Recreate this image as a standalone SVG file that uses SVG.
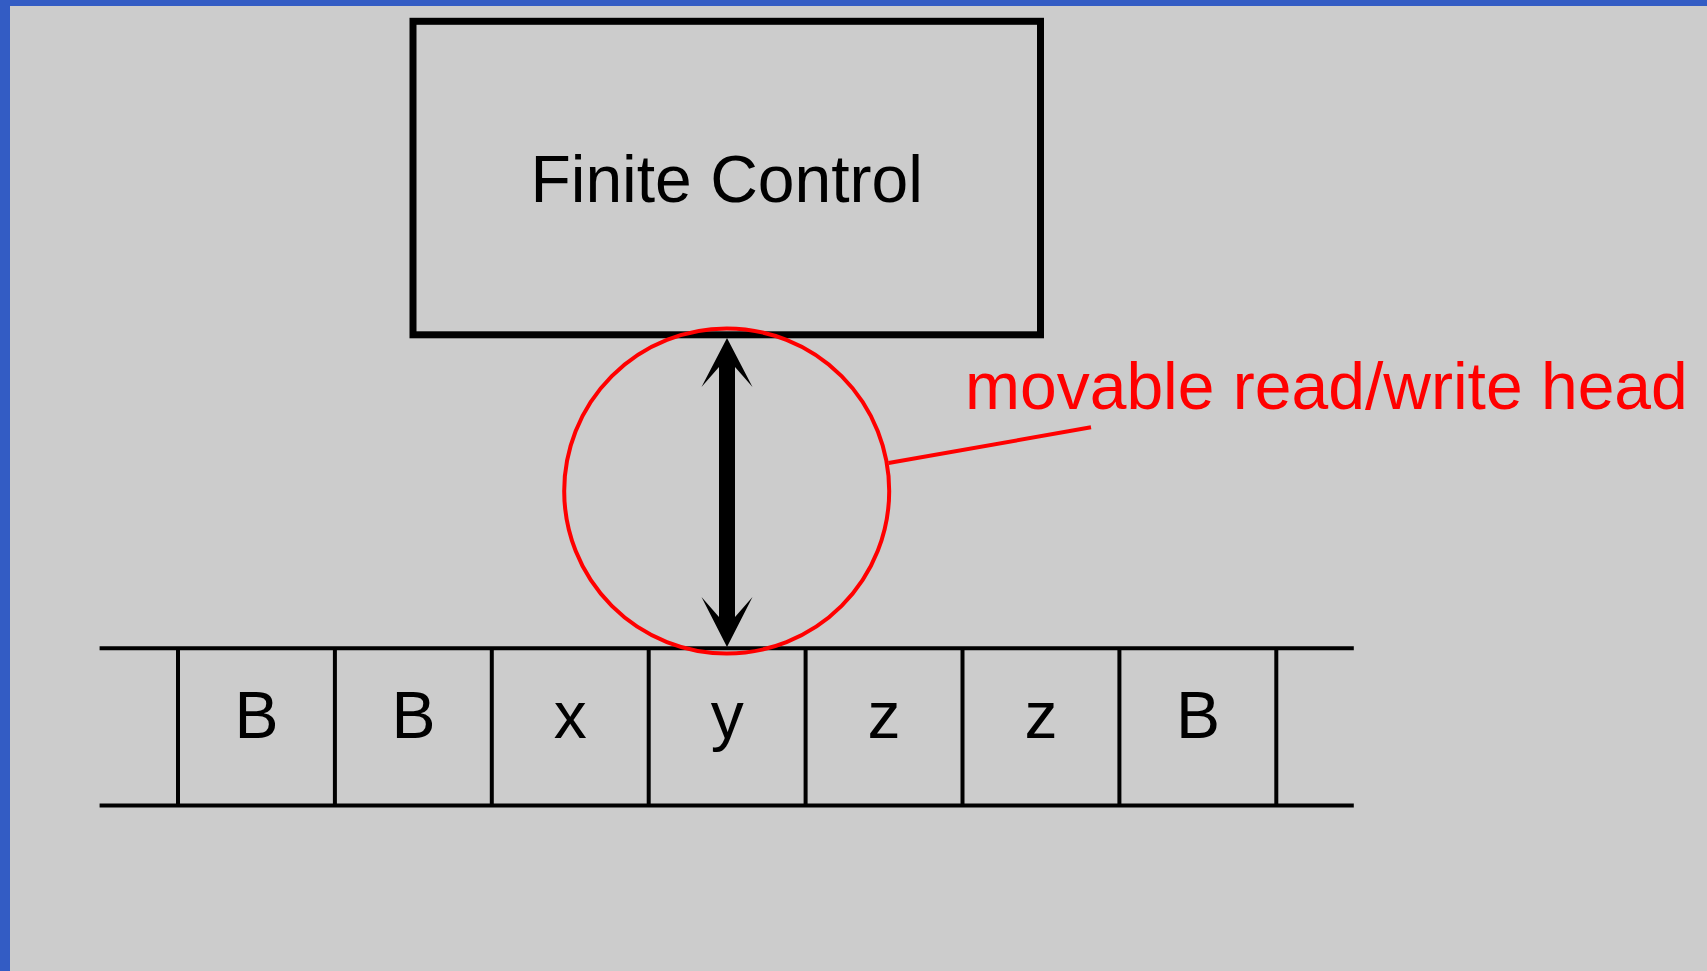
<svg xmlns="http://www.w3.org/2000/svg" width="1707" height="971" viewBox="0 0 1707 971">
  <style>
    .lbl { font-family: "Liberation Sans", Arial, sans-serif; font-size: 66px; fill: #000; }
    .cellt { font-family: "Liberation Sans", Arial, sans-serif; font-size: 66px; fill: #000; text-anchor: middle; }
    .tape { stroke: #000; stroke-width: 4; fill: none; }
    .red { stroke: #ff0000; stroke-width: 4; fill: none; }
  </style>
  <rect x="0" y="0" width="1707" height="971" fill="#cccccc"/>
  <rect x="0" y="0" width="1707" height="6" fill="#335cc4"/>
  <rect x="0" y="0" width="10" height="971" fill="#335cc4"/>

  <g id="finite-control">
    <rect x="413" y="21.3" width="627.5" height="313.5" fill="none" stroke="#000" stroke-width="7"/>
    <text class="lbl" x="726.7" y="201.7" text-anchor="middle">Finite Control</text>
  </g>

  <g id="tape">
    <line class="tape" x1="99.6" y1="648.3" x2="1353.8" y2="648.3"/>
    <line class="tape" x1="99.6" y1="805.5" x2="1353.8" y2="805.5"/>
    <line class="tape" x1="178" y1="648.3" x2="178" y2="805.5"/>
    <line class="tape" x1="334.9" y1="648.3" x2="334.9" y2="805.5"/>
    <line class="tape" x1="491.8" y1="648.3" x2="491.8" y2="805.5"/>
    <line class="tape" x1="648.7" y1="648.3" x2="648.7" y2="805.5"/>
    <line class="tape" x1="805.6" y1="648.3" x2="805.6" y2="805.5"/>
    <line class="tape" x1="962.5" y1="648.3" x2="962.5" y2="805.5"/>
    <line class="tape" x1="1119.4" y1="648.3" x2="1119.4" y2="805.5"/>
    <line class="tape" x1="1276.3" y1="648.3" x2="1276.3" y2="805.5"/>
  </g>
  <g id="cell-1"><text class="cellt" x="256.5" y="738.3">B</text></g>
  <g id="cell-2"><text class="cellt" x="413.4" y="738.3">B</text></g>
  <g id="cell-3"><text class="cellt" x="570.3" y="738.3">x</text></g>
  <g id="cell-4"><text class="cellt" x="727.2" y="738.3">y</text></g>
  <g id="cell-5"><text class="cellt" x="884.1" y="738.3">z</text></g>
  <g id="cell-6"><text class="cellt" x="1041" y="738.3">z</text></g>
  <g id="cell-7"><text class="cellt" x="1197.9" y="738.3">B</text></g>

  <g id="head">
    <circle class="red" cx="726.7" cy="491" r="162.5"/>
  </g>

  <g id="head-label">
    <text class="lbl" x="965" y="409" style="fill:#ff0000">movable read/write head</text>
  </g>

  <g id="connectors">
    <path d="M727,338 L752.5,387 L735,367 L735,617 L752.5,597 L727,647 L701.5,597 L719,617 L719,367 L701.5,387 Z" fill="#000"/>
    <line class="red" x1="888.5" y1="463" x2="1091" y2="427.3"/>
  </g>
</svg>
